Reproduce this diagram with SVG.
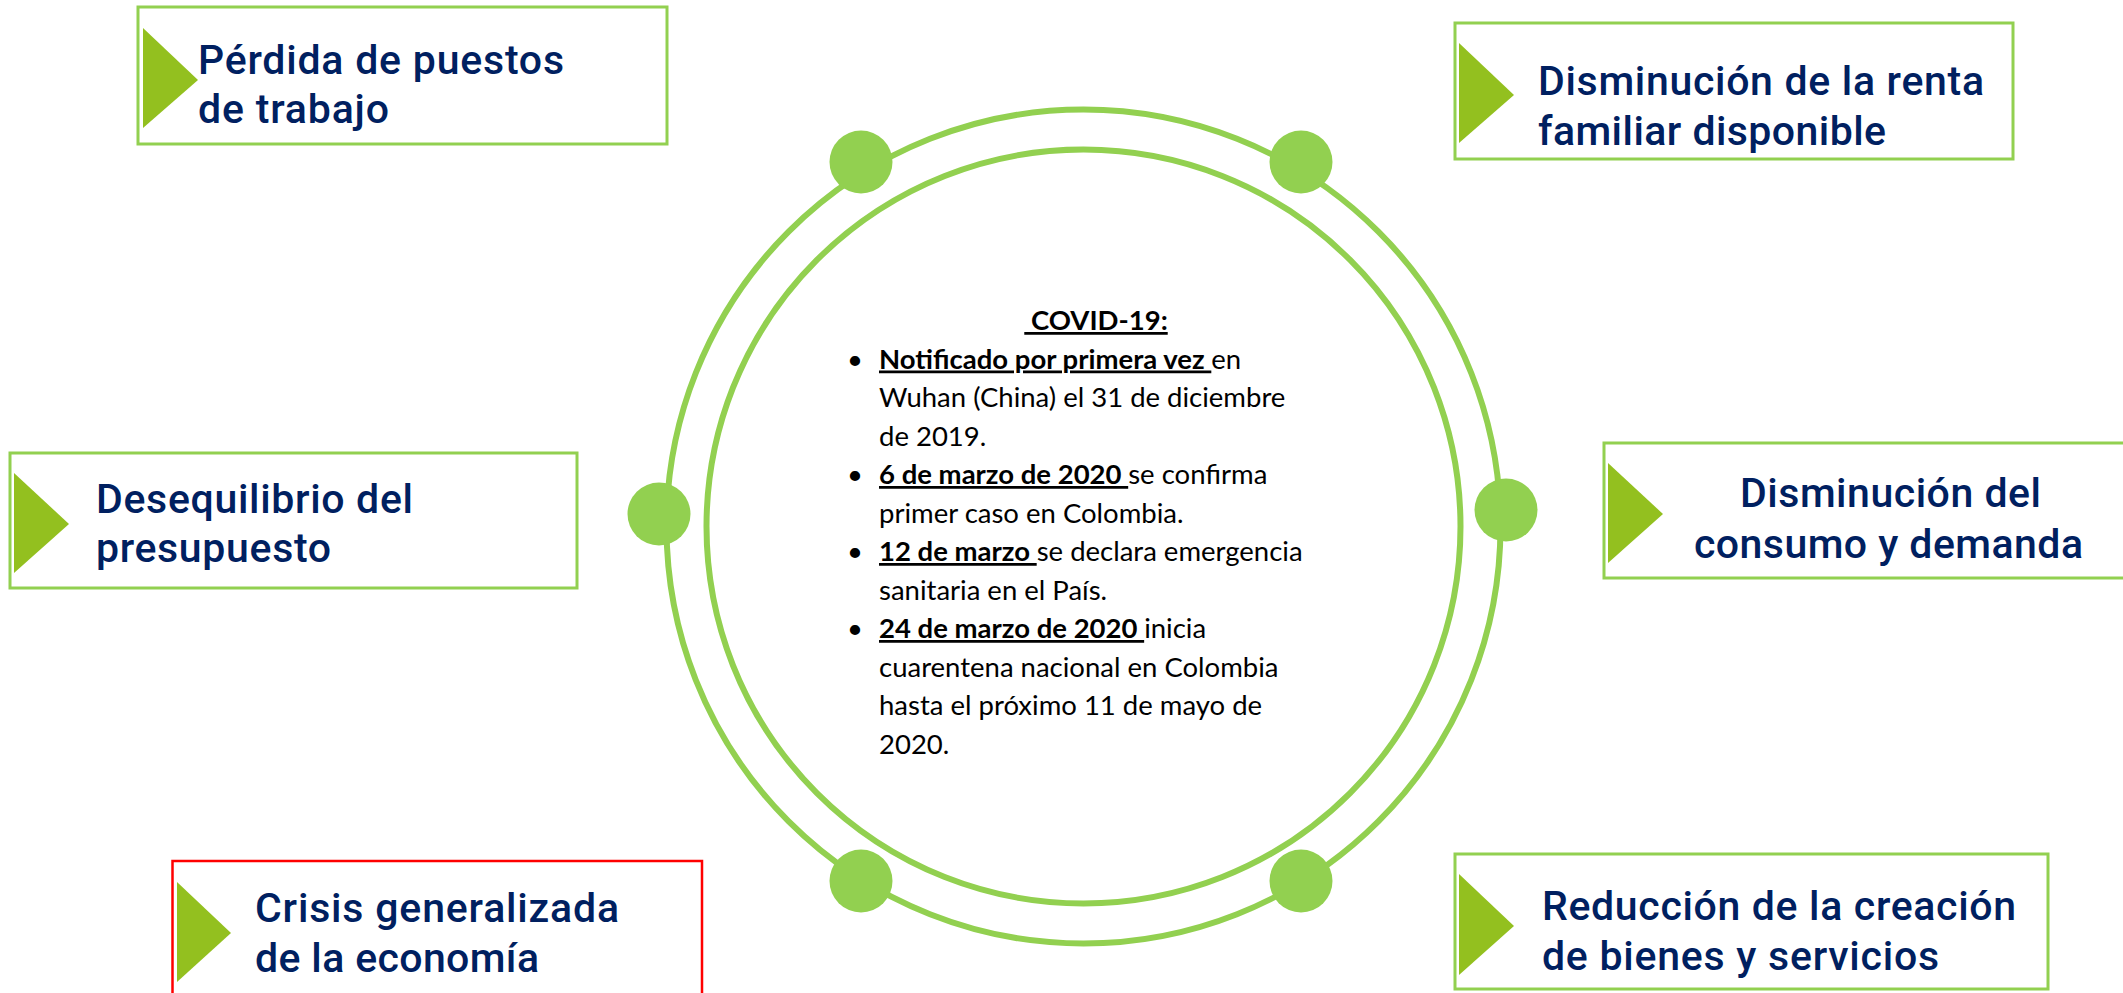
<svg xmlns="http://www.w3.org/2000/svg" width="2123" height="993" viewBox="0 0 2123 993">
<style>
.box{fill:#FFFFFF;stroke:#92D050;stroke-width:3}
.red{fill:#FFFFFF;stroke:#FF0000;stroke-width:2.5}
.tri{fill:#93C01F}
.lbl{font-family:Roboto,"Liberation Sans",sans-serif;font-weight:500;font-size:41px;fill:#002060}
.ring{fill:none;stroke:#92D050;stroke-width:6}
.dot{fill:#92D050}
.ct{font-family:Lato,"Liberation Sans",sans-serif;font-size:27.5px;fill:#000000}
.b{font-weight:bold}
.bu{font-weight:bold;text-decoration:underline}
</style>
<rect width="2123" height="993" fill="#FFFFFF"/>
<g id="rings">
<circle class="ring" cx="1083.5" cy="526.5" r="417"/>
<circle class="ring" cx="1083.5" cy="526.5" r="377"/>
<circle class="dot" cx="861" cy="162" r="31.5"/>
<circle class="dot" cx="1301" cy="162" r="31.5"/>
<circle class="dot" cx="659" cy="514" r="31.5"/>
<circle class="dot" cx="1506" cy="510" r="31.5"/>
<circle class="dot" cx="861" cy="881" r="31.5"/>
<circle class="dot" cx="1301" cy="881" r="31.5"/>
</g>
<g id="center">
<text class="ct b" x="1096" y="330" text-anchor="middle" xml:space="preserve" text-decoration="underline"> COVID-19:</text>
<text class="ct" x="847" y="368.5">•</text>
<text class="ct" x="879" y="368.5" xml:space="preserve"><tspan class="bu">Notificado por primera vez </tspan>en</text>
<text class="ct" x="879" y="407">Wuhan (China) el 31 de diciembre</text>
<text class="ct" x="879" y="445.5">de 2019.</text>
<text class="ct" x="847" y="484">•</text>
<text class="ct" x="879" y="484" xml:space="preserve"><tspan class="bu">6 de marzo de 2020 </tspan>se confirma</text>
<text class="ct" x="879" y="522.5">primer caso en Colombia.</text>
<text class="ct" x="847" y="561">•</text>
<text class="ct" x="879" y="561" xml:space="preserve"><tspan class="bu">12 de marzo </tspan>se declara emergencia</text>
<text class="ct" x="879" y="599.5">sanitaria en el País.</text>
<text class="ct" x="847" y="638">•</text>
<text class="ct" x="879" y="638" xml:space="preserve"><tspan class="bu">24 de marzo de 2020 </tspan>inicia</text>
<text class="ct" x="879" y="676.5">cuarentena nacional en Colombia</text>
<text class="ct" x="879" y="715">hasta el próximo 11 de mayo de</text>
<text class="ct" x="879" y="753.5">2020.</text>
</g>
<g id="n1">
<rect class="box" x="138" y="7" width="529" height="137"/>
<polygon class="tri" points="143,28 198,80 143,128"/>
<text class="lbl" x="198" y="74" textLength="366" lengthAdjust="spacing">Pérdida de puestos</text>
<text class="lbl" x="198" y="123" textLength="191" lengthAdjust="spacing">de trabajo</text>
</g>
<g id="n2">
<rect class="box" x="1455" y="23" width="558" height="136"/>
<polygon class="tri" points="1459,43 1514,95 1459,143"/>
<text class="lbl" x="1538" y="95" textLength="446" lengthAdjust="spacing">Disminución de la renta</text>
<text class="lbl" x="1538" y="145" textLength="348" lengthAdjust="spacing">familiar disponible</text>
</g>
<g id="n3">
<rect class="box" x="10" y="453" width="567" height="135"/>
<polygon class="tri" points="14,473 69,524 14,573"/>
<text class="lbl" x="96" y="513" textLength="317" lengthAdjust="spacing">Desequilibrio del</text>
<text class="lbl" x="96" y="562" textLength="235" lengthAdjust="spacing">presupuesto</text>
</g>
<g id="n4">
<rect class="box" x="1604" y="443" width="530" height="135"/>
<polygon class="tri" points="1608,463 1663,514 1608,563"/>
<text class="lbl" x="1740" y="507" textLength="301" lengthAdjust="spacing">Disminución del</text>
<text class="lbl" x="1694" y="558" textLength="389" lengthAdjust="spacing">consumo y demanda</text>
</g>
<g id="n5">
<rect class="red" x="172.5" y="861" width="529.5" height="150"/>
<polygon class="tri" points="177,882 231,933 177,982"/>
<text class="lbl" x="255" y="922" textLength="364" lengthAdjust="spacing">Crisis generalizada</text>
<text class="lbl" x="255" y="972" textLength="284" lengthAdjust="spacing">de la economía</text>
</g>
<g id="n6">
<rect class="box" x="1455" y="854" width="593" height="135"/>
<polygon class="tri" points="1459,874 1514,926 1459,975"/>
<text class="lbl" x="1542" y="920" textLength="474" lengthAdjust="spacing">Reducción de la creación</text>
<text class="lbl" x="1542" y="970" textLength="397" lengthAdjust="spacing">de bienes y servicios</text>
</g>
<g id="connectors"></g>
</svg>
